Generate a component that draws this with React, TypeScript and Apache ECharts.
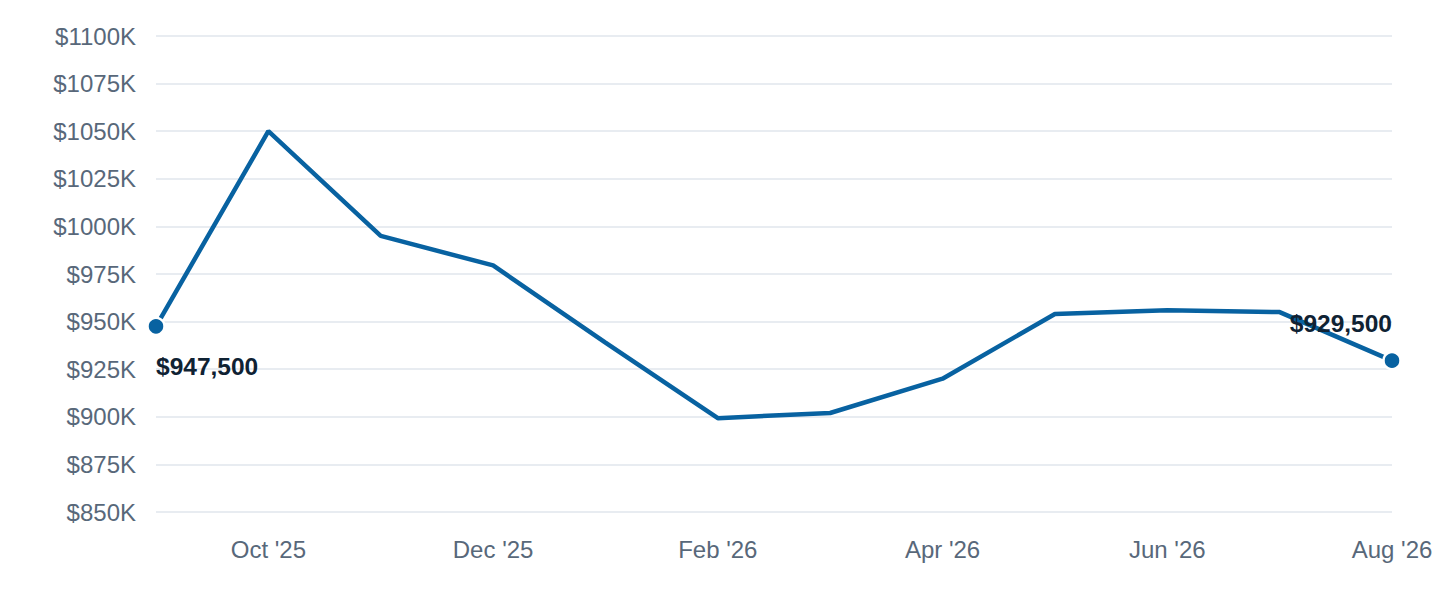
import React, { useEffect, useRef } from "react";
import * as echarts from "echarts";

const categories = ["Sep '25", "Oct '25", "Nov '25", "Dec '25", "Jan '26", "Feb '26", "Mar '26", "Apr '26", "May '26", "Jun '26", "Jul '26", "Aug '26"];
const values = [947500, 1050000, 995000, 979500, 939000, 899300, 902000, 920000, 954000, 956000, 955000, 929500];
const yMin = 850000;
const yMax = 1100000;
const yInterval = 25000;

const FONT = "'Liberation Sans', Arial, Helvetica, sans-serif";
const LINE = "#0862a1";

export default function App() {
  const ref = useRef<HTMLDivElement>(null);
  useEffect(() => {
    if (!ref.current) return;
    const chart = echarts.init(ref.current, undefined, { renderer: "svg" });
    const last = values.length - 1;
    const data = values.map((v, i) => {
      if (i === 0 || i === last) {
        return {
          value: v,
          symbol: "circle",
          symbolSize: 17,
          label: {
            show: true,
            position: "inside",
            align: i === 0 ? "left" : "right",
            verticalAlign: "middle",
            offset: i === 0 ? [0, 40] : [0, -37],
            formatter: (p: any) => "$" + Number(p.value).toLocaleString("en-US"),
            color: "#0f2233",
            fontWeight: "bold",
            fontSize: 24.5,
            fontFamily: FONT,
          },
        };
      }
      return { value: v, symbol: "none" };
    });
    chart.setOption({
      animation: false,
      grid: { left: 156, right: 48, top: 36, bottom: 88, containLabel: false },
      xAxis: {
        type: "category",
        data: categories,
        boundaryGap: false,
        axisLine: { show: false },
        axisTick: { show: false },
        splitLine: { show: false },
        axisLabel: {
          interval: (index: number) => index % 2 === 1,
          color: "#58687a",
          fontSize: 24,
          fontFamily: FONT,
          margin: 25,
        },
      },
      yAxis: {
        type: "value",
        min: yMin,
        max: yMax,
        interval: yInterval,
        axisLine: { show: false },
        axisTick: { show: false },
        splitLine: { lineStyle: { color: "#e1e6ed", width: 1.5 } },
        axisLabel: {
          formatter: (v: number) => "$" + v / 1000 + "K",
          color: "#58687a",
          fontSize: 24,
          fontFamily: FONT,
          margin: 20,
        },
      },
      series: [
        {
          type: "line",
          data,
          showAllSymbol: true,
          lineStyle: { color: LINE, width: 4.5 },
          itemStyle: { color: LINE, borderColor: "#ffffff", borderWidth: 2.5 },
          emphasis: { disabled: true },
          z: 3,
        },
      ],
    });
    return () => chart.dispose();
  }, []);
  return (
    <div
      ref={ref}
      style={{ position: "fixed", left: 0, top: 0, width: 1440, height: 600, background: "#ffffff" }}
    />
  );
}
